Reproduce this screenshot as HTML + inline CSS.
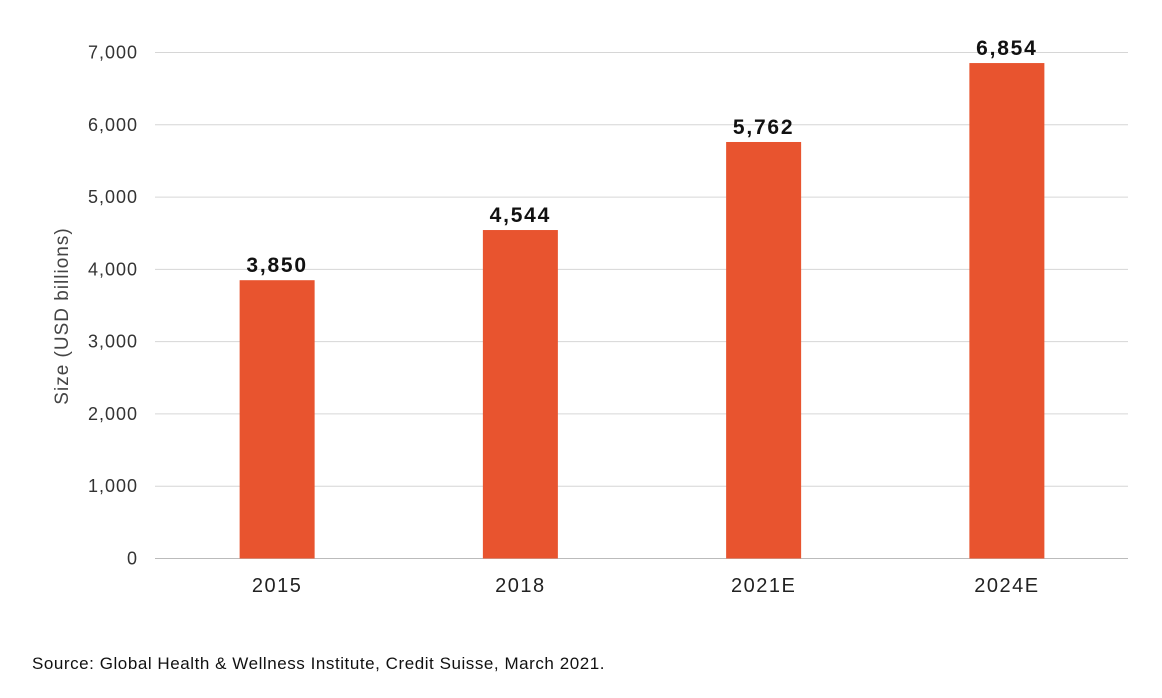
<!DOCTYPE html>
<html><head><meta charset="utf-8"><style>
html,body{margin:0;padding:0;background:#fff;}
svg{display:block;font-family:"Liberation Sans",sans-serif;}
</style></head><body>
<svg id="chart" width="1162" height="698">
<g id="grid"></g>
<g id="yticks"></g>
<g id="bars"></g>
<g id="xticks"></g>
<text transform="translate(68,316) rotate(-90)" text-anchor="middle" font-size="19" letter-spacing="1" fill="#444">Size (USD billions)</text>
<text x="32" y="669" font-size="17" letter-spacing="0.55" fill="#111">Source: Global Health &amp; Wellness Institute, Credit Suisse, March 2021.</text>
</svg>
<script>
const categories = ["2015","2018","2021E","2024E"];
const values = [3850,4544,5762,6854];
const valueLabels = ["3,850","4,544","5,762","6,854"];
const yTicks = [0,1000,2000,3000,4000,5000,6000,7000];
const yTickLabels = ["0","1,000","2,000","3,000","4,000","5,000","6,000","7,000"];

const NS="http://www.w3.org/2000/svg";
const x0=155, x1=1128, y0=558.5, yTop=52.5, yMax=7000;
const band=(x1-x0)/categories.length, barW=75;
const yS=v=>y0-(v/yMax)*(y0-yTop);
const xC=i=>x0+band*(i+0.5)+0.5;
function mk(tag,attrs,parent){const e=document.createElementNS(NS,tag);for(const k in attrs)e.setAttribute(k,attrs[k]);parent.appendChild(e);return e;}
const grid=document.getElementById('grid'),yt=document.getElementById('yticks'),bars=document.getElementById('bars'),xt=document.getElementById('xticks');
yTicks.forEach((t,i)=>{
  const l=mk('line',{x1:x0,x2:x1,y1:yS(t),y2:yS(t),stroke:i===0?'#bbb':'#d6d6d6','stroke-width':1},grid);
  
  
  const tx=mk('text',{x:138,y:yS(t)+6,'text-anchor':'end','font-size':18,'letter-spacing':1,fill:'#333'},yt);
  tx.textContent=yTickLabels[i];
  
  
});
categories.forEach((c,i)=>{
  const r=mk('rect',{x:xC(i)-barW/2,y:yS(values[i]),width:barW,height:y0-yS(values[i]),fill:'#E8542F'},bars);
  
  
  const v=mk('text',{x:xC(i),y:yS(values[i])-8,'text-anchor':'middle','font-size':21,'font-weight':'bold','letter-spacing':1.8,fill:'#111'},bars);
  v.textContent=valueLabels[i];
  
  
  const xl=mk('text',{x:xC(i),y:592,'text-anchor':'middle','font-size':20,'letter-spacing':1.5,fill:'#222'},xt);
  xl.textContent=c;
  
  
});
</script>
</body></html>
